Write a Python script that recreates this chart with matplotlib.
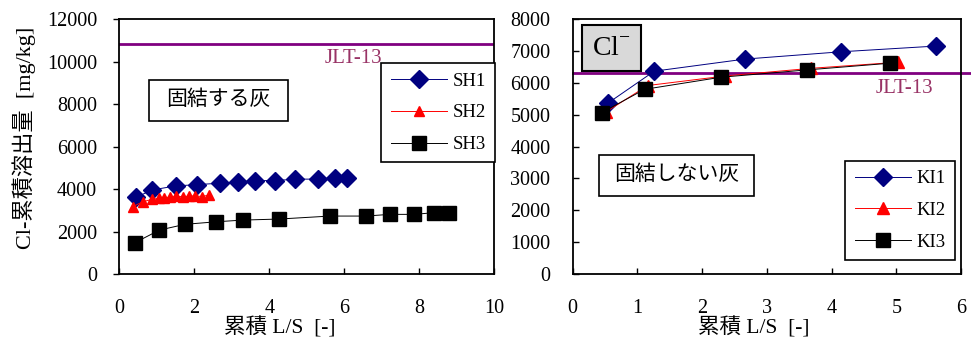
import matplotlib
matplotlib.use("Agg")
import matplotlib.pyplot as plt
from matplotlib.patches import Rectangle

plt.rcParams['font.family'] = ['Liberation Serif', 'Noto Sans CJK JP']
plt.rcParams['mathtext.fontset'] = 'custom'
plt.rcParams['mathtext.rm'] = 'Liberation Serif'

# ---- data: left panel (固結する灰) ----
sh1_x = [0.45, 0.88, 1.50, 2.08, 2.68, 3.17, 3.63, 4.16, 4.69, 5.29, 5.76, 6.08]
sh1_y = [3620, 3960, 4150, 4210, 4280, 4340, 4400, 4400, 4470, 4470, 4540, 4540]
sh2_x = [0.37, 0.62, 0.88, 1.05, 1.20, 1.36, 1.50, 1.70, 1.86, 2.03, 2.20, 2.40]
sh2_y = [3180, 3400, 3520, 3560, 3600, 3620, 3660, 3640, 3670, 3680, 3650, 3720]
sh3_x = [0.42, 1.07, 1.75, 2.58, 3.29, 4.27, 5.62, 6.58, 7.22, 7.87, 8.40, 8.80]
sh3_y = [1480, 2070, 2340, 2460, 2540, 2590, 2730, 2730, 2810, 2810, 2890, 2890]
jlt_left = 10840

# ---- data: right panel (固結しない灰) ----
ki1_x = [0.54, 1.26, 2.66, 4.15, 5.62]
ki1_y = [5360, 6370, 6750, 6980, 7160]
ki2_x = [0.52, 1.16, 2.36, 3.68, 5.02]
ki2_y = [5100, 5920, 6220, 6460, 6650]
ki3_x = [0.45, 1.11, 2.29, 3.62, 4.90]
ki3_y = [5070, 5800, 6180, 6410, 6620]
jlt_right = 6300

left_xticks = [0, 2, 4, 6, 8, 10]
left_yticks = [0, 2000, 4000, 6000, 8000, 10000, 12000]
right_xticks = [0, 1, 2, 3, 4, 5, 6]
right_yticks = [0, 1000, 2000, 3000, 4000, 5000, 6000, 7000, 8000]

NAVY = '#000080'
PURPLE = '#800080'
JLT_TXT = '#993366'
FS = 14.5

fig = plt.figure(figsize=(9.71, 3.42), dpi=100)
axL = fig.add_axes([0.1229, 0.1988, 0.3859, 0.7448])
axR = fig.add_axes([0.5898, 0.1988, 0.3999, 0.7448])

def style(ax, ydir):
    for s in ax.spines.values():
        s.set_linewidth(1.3)
    ax.tick_params(axis='x', direction='in', length=4, width=1, pad=18, labelsize=FS, top=False)
    if ydir == 'out':
        ax.tick_params(axis='y', direction='out', length=4, width=1, pad=12, labelsize=FS, right=False)
    else:
        ax.tick_params(axis='y', direction='in', length=4, width=1, pad=16, labelsize=FS, right=False)

# ---- left panel ----
axL.plot(sh1_x, sh1_y, color=NAVY, lw=0.7, marker='D', ms=9, mfc=NAVY, mec=NAVY, label='SH1')
axL.plot(sh2_x, sh2_y, color='red', lw=0.7, marker='^', ms=7, mfc='red', mec='red', label='SH2')
axL.plot(sh3_x, sh3_y, color='black', lw=0.7, marker='s', ms=10, mfc='black', mec='black', label='SH3')
axL.axhline(jlt_left, color=PURPLE, lw=2)
axL.text(6.26, 10150, 'JLT-13', color=JLT_TXT, fontsize=15, ha='center', va='center')
axL.set_xlim(0, 10)
axL.set_ylim(0, 12000)
axL.set_xticks(left_xticks)
axL.set_yticks(left_yticks)
style(axL, 'out')
axL.set_xlabel('累積 L/S  [-]', fontsize=15.5)
axL.xaxis.set_label_coords(0.429, -0.17)
axL.set_ylabel('Cl-累積溶出量  [mg/kg]', fontsize=16)
axL.yaxis.set_label_coords(-0.222, 0.535)
legL = axL.legend(loc='upper right', bbox_to_anchor=(1.003, 0.828), fontsize=13.5,
                  frameon=True, fancybox=False, framealpha=1, edgecolor='black',
                  handlelength=3.0, handletextpad=0.3, labelspacing=0.78, borderpad=0.5,
                  borderaxespad=0)
legL.get_frame().set_linewidth(1.2)
axL.add_patch(Rectangle((0.079, 0.601), 0.371, 0.161, transform=axL.transAxes,
                        facecolor='white', edgecolor='black', lw=1.2))
axL.text(0.2645, 0.681, '固結する灰', transform=axL.transAxes, fontsize=15,
         ha='center', va='center')

# ---- right panel ----
axR.plot(ki1_x, ki1_y, color=NAVY, lw=0.7, marker='D', ms=9.5, mfc=NAVY, mec=NAVY, label='KI1')
axR.plot(ki2_x, ki2_y, color='red', lw=0.7, marker='^', ms=8, mfc='red', mec='red', label='KI2')
axR.plot(ki3_x, ki3_y, color='black', lw=0.7, marker='s', ms=10, mfc='black', mec='black', label='KI3')
axR.plot([0, 6.2], [jlt_right, jlt_right], color=PURPLE, lw=2, clip_on=False, zorder=1.5)
axR.text(5.13, 5820, 'JLT-13', color=JLT_TXT, fontsize=15, ha='center', va='center')
axR.set_xlim(0, 6)
axR.set_ylim(0, 8000)
axR.set_xticks(right_xticks)
axR.set_yticks(right_yticks)
style(axR, 'in')
axR.set_xlabel('累積 L/S  [-]', fontsize=15.5)
axR.xaxis.set_label_coords(0.467, -0.17)
legR = axR.legend(loc='lower right', bbox_to_anchor=(0.9845, 0.055), fontsize=13.5,
                  frameon=True, fancybox=False, framealpha=1, edgecolor='black',
                  handlelength=3.0, handletextpad=0.3, labelspacing=0.78, borderpad=0.5,
                  borderaxespad=0)
legR.get_frame().set_linewidth(1.2)
axR.add_patch(Rectangle((0.067, 0.306), 0.400, 0.161, transform=axR.transAxes,
                        facecolor='white', edgecolor='black', lw=1.2))
axR.text(0.267, 0.387, '固結しない灰', transform=axR.transAxes, fontsize=15,
         ha='center', va='center')
axR.add_patch(Rectangle((0.023, 0.797), 0.153, 0.181, transform=axR.transAxes,
                        facecolor='#d9d9d9', edgecolor='black', lw=1.5, zorder=3))
axR.text(0.0995, 0.885, r'Cl$^{\mathrm{-}}$', transform=axR.transAxes, fontsize=20,
         ha='center', va='center', zorder=4)

fig.savefig('out.png', dpi=100)
